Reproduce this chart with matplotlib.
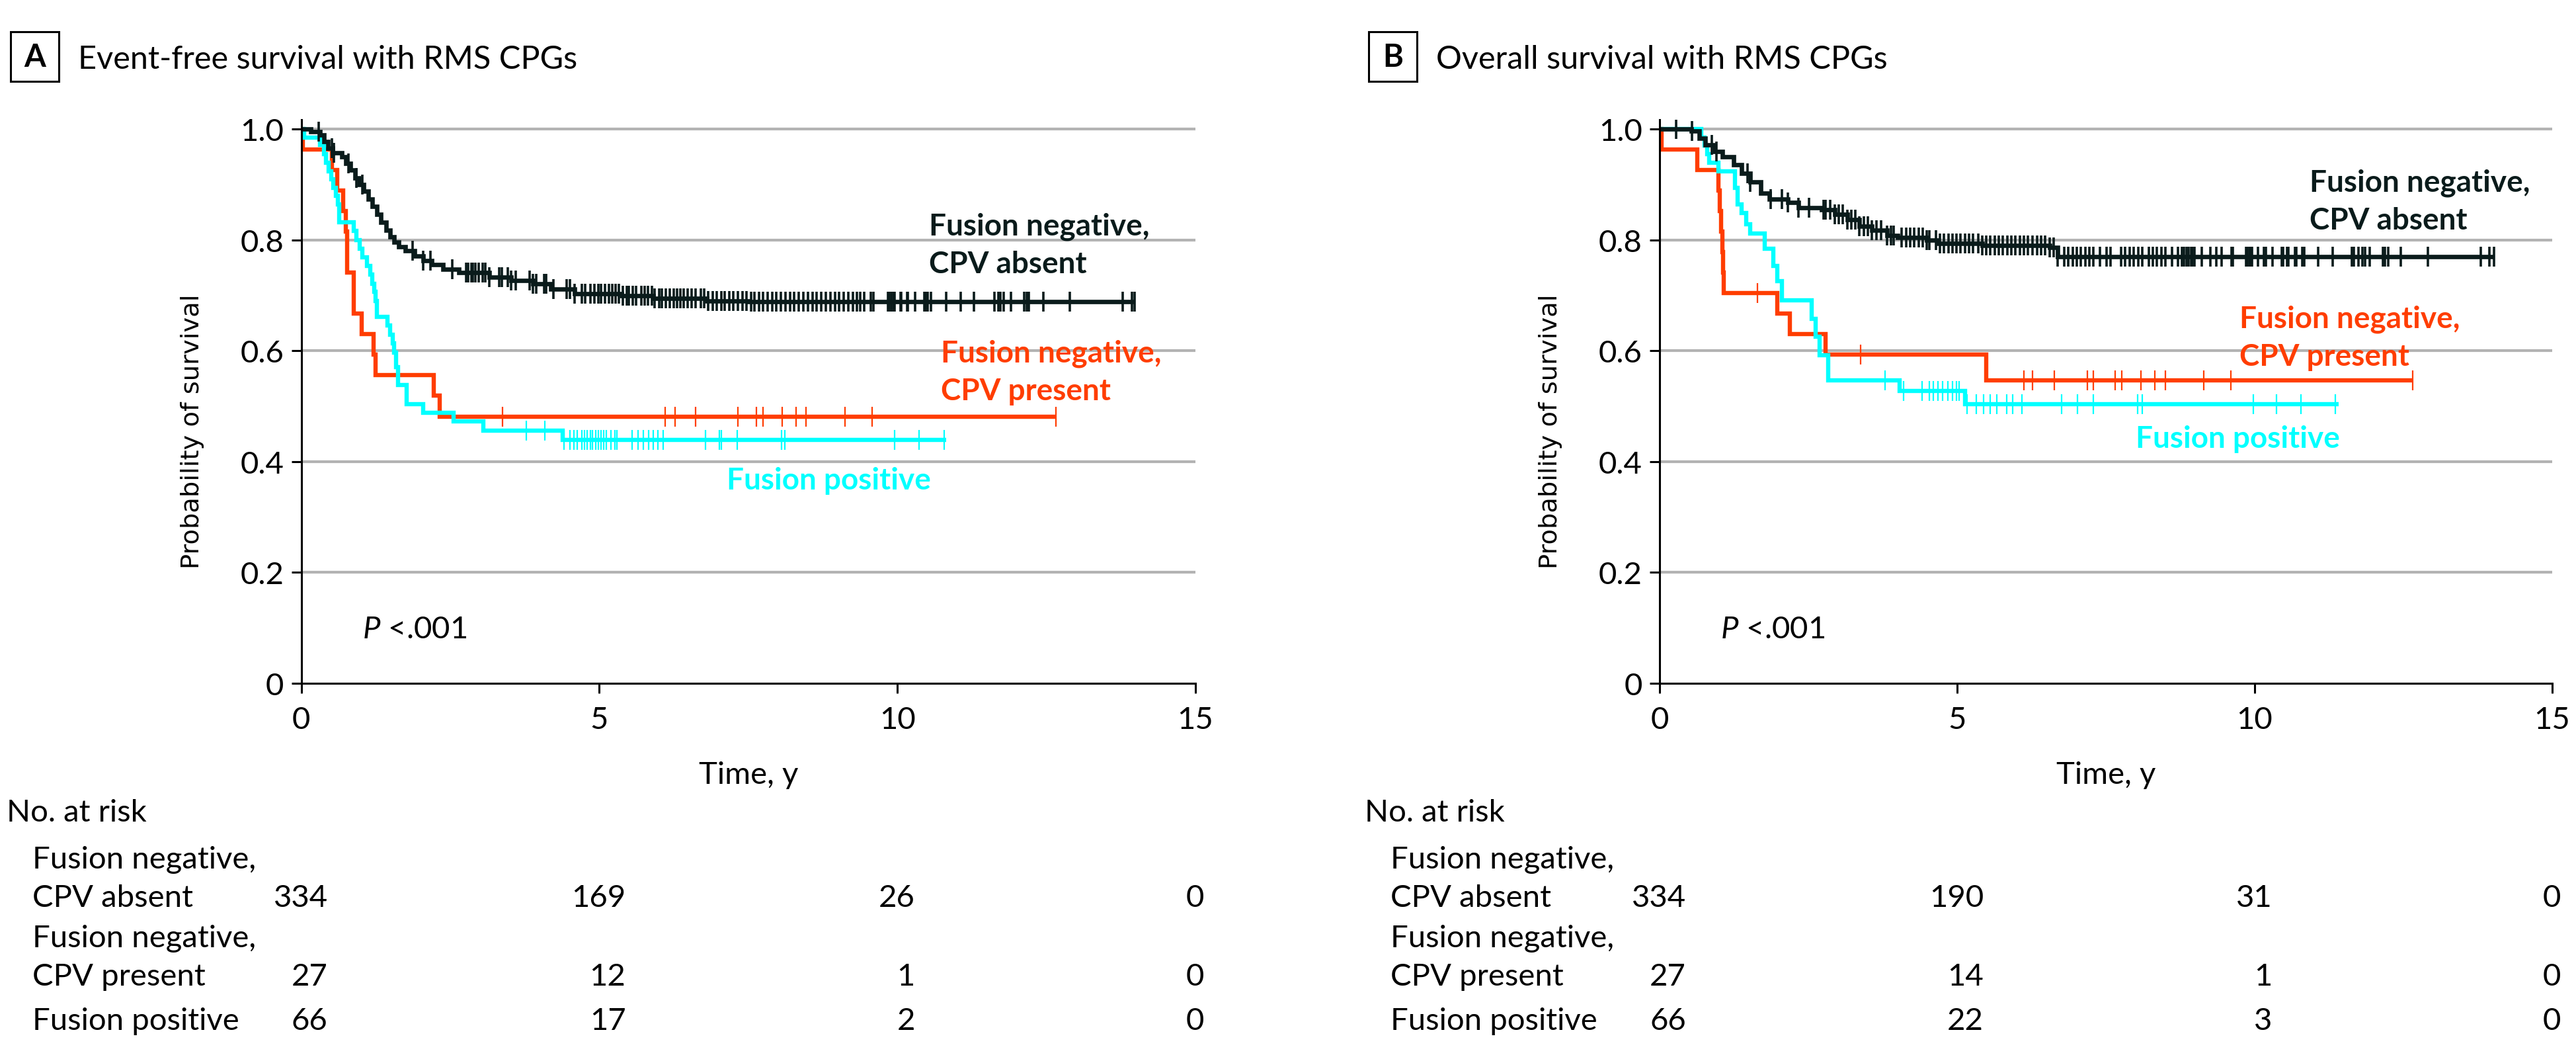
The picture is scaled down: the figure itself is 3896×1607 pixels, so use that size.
import numpy as np
import matplotlib
matplotlib.use("Agg")
import matplotlib.pyplot as plt
from matplotlib.patches import Rectangle
from matplotlib.transforms import blended_transform_factory

plt.rcParams['font.family'] = ['Lato', 'DejaVu Sans']
plt.rcParams['mathtext.fontset'] = 'custom'
plt.rcParams['mathtext.rm'] = 'Lato'
plt.rcParams['mathtext.it'] = 'Lato:italic'

# ------------------------------------------------------------------ data
panel_letters = ["A", "B"]
panel_titles = ["Event-free survival with RMS CPGs", "Overall survival with RMS CPGs"]
group_lines = [["Fusion negative,", "CPV absent"],
               ["Fusion negative,", "CPV present"],
               ["Fusion positive"]]
x_ticks = [0, 5, 10, 15]
y_ticks = [0, 0.2, 0.4, 0.6, 0.8, 1.0]
y_tick_labels = ["0", "0.2", "0.4", "0.6", "0.8", "1.0"]
x_label = "Time, y"
y_label = "Probability of survival"
risk_title = "No. at risk"
p_text = r"$P$ <.001"

# --- Panel A: event-free survival
efs_absent_t = [0, 0.16, 0.31, 0.38, 0.45, 0.53, 0.68, 0.75, 0.82, 0.90, 0.97, 1.05, 1.12, 1.19,
                1.27, 1.34, 1.42, 1.49, 1.56, 1.64, 1.75, 1.90, 2.04, 2.19, 2.38, 2.64, 3.15,
                3.52, 3.89, 4.19, 4.59, 5.37, 5.90, 6.80, 7.50, 13.98]
efs_absent_s = [1.0, 0.995, 0.989, 0.977, 0.965, 0.957, 0.950, 0.938, 0.926, 0.912, 0.900, 0.888,
                0.874, 0.860, 0.846, 0.832, 0.818, 0.806, 0.796, 0.788, 0.780, 0.771, 0.763, 0.755,
                0.747, 0.741, 0.733, 0.727, 0.721, 0.711, 0.703, 0.699, 0.695, 0.690, 0.688, 0.688]
efs_absent_cens = [0.29, 0.51, 0.55, 0.79, 0.93, 1.02, 1.87, 2.04, 2.17, 2.53, 2.77, 2.80, 2.86,
                   2.88, 2.92, 2.98, 3.04, 3.09, 3.15, 3.32, 3.37, 3.46, 3.52, 3.60, 3.83, 3.89,
                   3.94, 4.08, 4.11, 4.23, 4.45, 4.51, 4.59, 4.71, 4.76, 4.85, 4.92, 4.98, 5.03,
                   5.10, 5.16, 5.22, 5.27, 5.33, 5.40, 5.46, 5.50, 5.56, 5.62, 5.70, 5.76, 5.82,
                   5.88, 5.93, 6.00, 6.05, 6.12, 6.18, 6.25, 6.30, 6.36, 6.42, 6.48, 6.55, 6.62,
                   6.70, 6.76, 6.83, 6.90, 6.97, 7.05, 7.10, 7.18, 7.25, 7.32, 7.40, 7.47, 7.55,
                   7.60, 7.68, 7.75, 7.82, 7.90, 7.97, 8.05, 8.12, 8.20, 8.27, 8.35, 8.42, 8.50,
                   8.58, 8.65, 8.72, 8.80, 8.88, 8.95, 9.02, 9.10, 9.18, 9.25, 9.32, 9.38, 9.44,
                   9.55, 9.60, 9.84, 9.87, 9.90, 9.93, 9.95, 10.05, 10.06, 10.16, 10.17, 10.30,
                   10.45, 10.47, 10.51, 10.56, 10.82, 11.06, 11.28, 11.63, 11.69, 11.73, 11.78,
                   11.91, 12.13, 12.17, 12.21, 12.45, 12.89, 13.78, 13.94, 13.98]

efs_present_t = [0, 0.03, 0.51, 0.60, 0.70, 0.75, 0.77, 0.88, 1.01, 1.21, 1.25, 2.22, 2.32, 12.66]
efs_present_s = [1.0, 0.963, 0.926, 0.889, 0.852, 0.815, 0.741, 0.667, 0.630, 0.593, 0.556,
                 0.519, 0.481, 0.481]
efs_present_cens = [3.38, 6.11, 6.27, 6.62, 7.33, 7.63, 7.75, 8.07, 8.30, 8.47, 9.12, 9.58, 12.66]

efs_fusion_t = [0, 0.05, 0.31, 0.38, 0.42, 0.46, 0.50, 0.54, 0.58, 0.62, 0.64, 0.88, 0.93, 0.98,
                1.03, 1.10, 1.16, 1.19, 1.22, 1.25, 1.27, 1.45, 1.49, 1.53, 1.56, 1.59, 1.62,
                1.77, 2.04, 2.55, 3.05, 4.39, 10.82]
efs_fusion_s = [1.0, 0.985, 0.971, 0.955, 0.939, 0.924, 0.909, 0.894, 0.879, 0.864, 0.832, 0.816,
                0.800, 0.784, 0.768, 0.753, 0.737, 0.721, 0.706, 0.690, 0.661, 0.645, 0.629,
                0.613, 0.597, 0.570, 0.538, 0.504, 0.488, 0.472, 0.456, 0.439, 0.439]
efs_fusion_cens = [3.77, 4.09, 4.41, 4.51, 4.57, 4.63, 4.71, 4.75, 4.80, 4.85, 4.89, 4.94, 4.98,
                   5.03, 5.07, 5.12, 5.19, 5.26, 5.30, 5.55, 5.65, 5.74, 5.83, 5.90, 5.98, 6.07,
                   6.78, 7.01, 7.05, 7.31, 8.06, 8.11, 9.95, 10.36, 10.78]

efs_risk = [[334, 169, 26, 0], [27, 12, 1, 0], [66, 17, 2, 0]]

# --- Panel B: overall survival
os_absent_t = [0, 0.53, 0.67, 0.77, 0.92, 1.06, 1.24, 1.38, 1.52, 1.70, 1.84, 2.16, 2.33, 2.72,
               2.94, 3.15, 3.36, 3.57, 3.82, 4.00, 4.49, 4.67, 5.42, 6.55, 6.69, 14.02]
os_absent_s = [1.0, 0.997, 0.983, 0.971, 0.959, 0.950, 0.936, 0.920, 0.904, 0.884, 0.874, 0.868,
               0.858, 0.854, 0.846, 0.836, 0.824, 0.818, 0.808, 0.804, 0.800, 0.794, 0.790,
               0.786, 0.770, 0.770]
os_absent_cens = [0.28, 0.54, 0.88, 0.95, 1.48, 1.52, 1.87, 2.05, 2.16, 2.33, 2.51, 2.76, 2.79,
                  2.87, 2.94, 3.01, 3.08, 3.15, 3.22, 3.29, 3.36, 3.43, 3.50, 3.57, 3.64, 3.72,
                  3.82, 3.89, 3.93, 4.07, 4.14, 4.21, 4.28, 4.35, 4.42, 4.49, 4.53, 4.64, 4.71,
                  4.78, 4.85, 4.92, 4.99, 5.06, 5.13, 5.20, 5.27, 5.35, 5.42, 5.49, 5.56, 5.63,
                  5.70, 5.77, 5.84, 5.91, 5.98, 6.05, 6.12, 6.19, 6.27, 6.34, 6.41, 6.48, 6.55,
                  6.62, 6.69, 6.80, 6.87, 6.94, 7.01, 7.08, 7.15, 7.22, 7.29, 7.40, 7.51, 7.58,
                  7.75, 7.82, 7.90, 7.97, 8.04, 8.11, 8.22, 8.29, 8.36, 8.43, 8.50, 8.61, 8.71,
                  8.78, 8.81, 8.85, 8.89, 8.93, 8.96, 8.99, 9.11, 9.26, 9.35, 9.44, 9.61, 9.63,
                  9.85, 9.88, 9.91, 9.93, 9.96, 10.06, 10.15, 10.19, 10.30, 10.46, 10.48, 10.54,
                  10.57, 10.68, 10.70, 10.80, 10.83, 11.07, 11.31, 11.63, 11.67, 11.74, 11.81,
                  11.85, 11.93, 12.15, 12.19, 12.24, 12.46, 12.91, 13.80, 13.94, 14.02]

os_present_t = [0, 0.03, 0.63, 0.99, 1.01, 1.03, 1.05, 1.07, 1.08, 1.98, 2.19, 2.79, 5.49, 12.65]
os_present_s = [1.0, 0.963, 0.926, 0.889, 0.852, 0.815, 0.778, 0.741, 0.704, 0.667, 0.630, 0.593,
                0.546, 0.546]
os_present_cens = [1.64, 3.38, 6.12, 6.27, 6.63, 7.19, 7.29, 7.65, 7.77, 8.09, 8.32, 8.50, 9.14,
                   9.60, 12.65]

os_fusion_t = [0, 0.70, 0.76, 0.80, 0.83, 0.99, 1.27, 1.31, 1.38, 1.45, 1.52, 1.77, 1.91, 1.98,
               2.05, 2.55, 2.62, 2.69, 2.83, 4.03, 5.13, 11.41]
os_fusion_s = [1.0, 0.985, 0.970, 0.955, 0.939, 0.924, 0.894, 0.864, 0.848, 0.828, 0.812, 0.784,
               0.753, 0.725, 0.691, 0.657, 0.625, 0.592, 0.546, 0.528, 0.504, 0.504]
os_fusion_cens = [3.79, 4.10, 4.41, 4.53, 4.60, 4.68, 4.76, 4.84, 4.92, 4.99, 5.03, 5.17, 5.32,
                  5.44, 5.56, 5.67, 5.83, 5.93, 6.09, 6.76, 7.02, 7.29, 8.03, 8.11, 9.98, 10.37,
                  10.78, 11.35]

os_risk = [[334, 190, 31, 0], [27, 14, 1, 0], [66, 22, 3, 0]]

# ------------------------------------------------------------------ style
W, H = 3896, 1608
DPI = 200
C_BLACK = '#0a1b1b'
C_ORANGE = '#ff3d00'
C_CYAN = '#00ffff'
GRID = '#b3b3b3'
FS = 16.5

fig = plt.figure(figsize=(W / DPI, H / DPI), dpi=DPI)


def fx(px):
    return px / W


def fy(py):
    return 1 - py / H


Y0, Y1 = 1034, 196            # pixel rows of survival 0 and 1
YTOP = 1.017
ax_left_px = [455.6, 2510.0]
ax_width_px = [1352.4, 1350.0]


def draw_km(ax, t, s, cens, color, lw, mew, z):
    t = np.asarray(t)
    s = np.asarray(s)
    ax.step(t, s, where='post', color=color, lw=lw, zorder=z,
            solid_joinstyle='miter', solid_capstyle='butt')
    ct = np.asarray(cens)
    idx = np.clip(np.searchsorted(t, ct, side='right') - 1, 0, len(s) - 1)
    ax.plot(ct, s[idx], linestyle='none', marker='|', ms=10.5, mew=mew,
            color=color, zorder=z + 0.5)


panels = [
    dict(curves=[(efs_present_t, efs_present_s, efs_present_cens, C_ORANGE),
                 (efs_fusion_t, efs_fusion_s, efs_fusion_cens, C_CYAN),
                 (efs_absent_t, efs_absent_s, efs_absent_cens, C_BLACK)],
         risk=efs_risk,
         lab_black=(10.53, [0.810, 0.741]),
         lab_orange=(10.73, [0.581, 0.512]),
         lab_cyan=(7.14, [0.351]),
         p_pos=(1.03, 0.082)),
    dict(curves=[(os_present_t, os_present_s, os_present_cens, C_ORANGE),
                 (os_fusion_t, os_fusion_s, os_fusion_cens, C_CYAN),
                 (os_absent_t, os_absent_s, os_absent_cens, C_BLACK)],
         risk=os_risk,
         lab_black=(10.92, [0.889, 0.820]),
         lab_orange=(9.74, [0.643, 0.574]),
         lab_cyan=(8.00, [0.426]),
         p_pos=(1.02, 0.082)),
]

ax_bottom = fy(Y0)
ax_h = ((Y0 - Y1) * YTOP) / H

for i, pan in enumerate(panels):
    L = ax_left_px[i]
    ax = fig.add_axes([fx(L), ax_bottom, ax_width_px[i] / W, ax_h])
    ax.set_xlim(0, 15)
    ax.set_ylim(0, YTOP)
    for sp in ['top', 'right']:
        ax.spines[sp].set_visible(False)
    for sp in ['left', 'bottom']:
        ax.spines[sp].set_linewidth(1.1)
        ax.spines[sp].set_zorder(6)
    ax.set_xticks(x_ticks)
    ax.set_xticklabels([str(v) for v in x_ticks])
    ax.set_yticks(y_ticks)
    ax.set_yticklabels(y_tick_labels)
    ax.tick_params(direction='out', length=5.4, width=1.1, labelsize=FS + 0.5)
    ax.tick_params(axis='y', pad=4)
    ax.tick_params(axis='x', pad=7)
    for v in y_ticks[1:]:
        ax.axhline(v, color=GRID, lw=1.5, zorder=0)

    for (t, s, c, col) in pan['curves']:
        if col == C_BLACK:
            draw_km(ax, t, s, c, col, 2.4, 1.3, 4)
        else:
            draw_km(ax, t, s, c, col, 2.3, 0.8, 3)

    # curve labels
    for gi, (key, col) in enumerate([('lab_black', C_BLACK), ('lab_orange', C_ORANGE),
                                     ('lab_cyan', C_CYAN)]):
        xx, ys = pan[key]
        for line, yy in zip(group_lines[gi], ys):
            ax.text(xx, yy, line, color=col, fontsize=FS, fontweight='bold',
                    ha='left', va='baseline', zorder=7)
    ax.text(pan['p_pos'][0], pan['p_pos'][1], p_text, fontsize=FS + 0.5,
            ha='left', va='baseline')

    # y label, x label
    fig.text(fx(L - 165), fy(652), y_label, rotation=90, ha='center', va='center',
             fontsize=13.8, family='DejaVu Sans')
    fig.text(fx(L + ax_width_px[i] / 2), fy(1185), x_label, ha='center', va='baseline',
             fontsize=FS + 0.5)

    # panel title
    bx = L - 439.6
    fig.add_artist(Rectangle((fx(bx), fy(124)), 73 / W, 75 / H, transform=fig.transFigure,
                             fill=False, lw=1.1, edgecolor='black'))
    fig.text(fx(bx + 36.5), fy(87), panel_letters[i], ha='center', va='center',
             fontsize=FS + 0.5, fontweight='bold')
    fig.text(fx(bx + 102), fy(104), panel_titles[i], ha='left', va='baseline',
             fontsize=FS + 1.0)

    # risk table
    fig.text(fx(L - 445.6), fy(1242), risk_title, ha='left', va='baseline', fontsize=FS + 0.5)
    label_base = [[1313, 1371], [1432, 1490], [1557]]
    num_base = [1371, 1490, 1557]
    tr = blended_transform_factory(ax.transData, fig.transFigure)
    for gi in range(3):
        for line, yb in zip(group_lines[gi], label_base[gi]):
            fig.text(fx(L - 406.6), fy(yb), line, ha='left', va='baseline', fontsize=FS + 0.5)
    risk = pan['risk']
    for ci, tv in enumerate(x_ticks):
        maxdig = max(len(str(r[ci])) for r in risk)
        xr = tv + maxdig * 0.148
        for gi in range(3):
            ax.text(xr, fy(num_base[gi]), str(risk[gi][ci]), transform=tr, ha='right',
                    va='baseline', fontsize=FS + 0.5, clip_on=False)

fig.savefig('out.png', dpi=DPI)
